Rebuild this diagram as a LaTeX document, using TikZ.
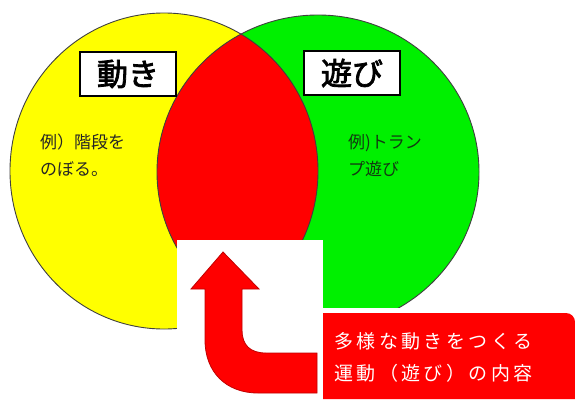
\documentclass[tikz,border=0pt]{standalone}
\usepackage{fontspec}
\newfontfamily\jp{Noto Sans CJK JP}
\newfontfamily\jpb{Noto Sans CJK JP}[FakeBold=2.5]
\newfontfamily\jpw{Noto Sans CJK JP}[LetterSpace=18]
\definecolor{vyellow}{HTML}{FFFF00}
\definecolor{vgreen}{HTML}{00F000}
\definecolor{vred}{HTML}{FF0000}
\definecolor{darkred}{HTML}{C00000}
\definecolor{txtgreen}{HTML}{123A12}
\begin{document}
\begin{tikzpicture}[x=1pt,y=-1pt,
  outline/.style={draw=black!75,line width=0.9pt},
  labelbox/.style={draw=black,line width=1.6pt,fill=white,minimum width=96pt,minimum height=44pt,inner sep=0pt,font=\jpb\fontsize{31}{31}\selectfont},
  notetext/.style={align=left,inner sep=0pt,anchor=north west,font=\jp\fontsize{17}{27}\selectfont},
  boxtext/.style={align=left,inner sep=0pt,anchor=north west,text=white,font=\jpw\fontsize{19}{32}\selectfont}]
\useasboundingbox (0,0) rectangle (575,399);
\fill[white] (0,0) rectangle (575,399);
% circles
\fill[vyellow] (164,171) ellipse [x radius=154, y radius=158];
\fill[vgreen] (318,172) ellipse [x radius=161, y radius=157];
\begin{scope}
  \clip (164,171) ellipse [x radius=154, y radius=158];
  \fill[vred] (318,172) ellipse [x radius=161, y radius=157];
\end{scope}
\draw[outline] (164,171) ellipse [x radius=154, y radius=158];
\draw[outline] (318,172) ellipse [x radius=161, y radius=157];
% white panel and red box
\fill[white] (177,240) rectangle (323,399);
\fill[white] (323,308) rectangle (575,399);
\fill[vred] (323,313) [rounded corners=9pt]-- (575,313) [sharp corners]-- (575,399) -- (323,399) -- cycle;
% arrow
\draw[fill=vred,draw=darkred,line width=0.8pt]
  (223,252) -- (259,289) -- (242,289) -- (242,330)
  .. controls (242,345) and (250,353) .. (266,353)
  -- (317,353) -- (317,393) -- (258,393)
  .. controls (226,393) and (205,372) .. (205,340)
  -- (205,289) -- (191,289) -- cycle;
% label boxes
\node[labelbox] (ugoki) at (128,74) {動き};
\node[labelbox] (asobi) at (352,73) {遊び};
% notes
\node[notetext,text=black!85] (ex1) at (40,134) {例）階段を\\のぼる。};
\node[notetext,text=txtgreen] (ex2) at (348,134) {例)トラン\\プ遊び};
\node[boxtext] (content) at (334,332) {多様な動きをつくる\\運動（遊び）の内容};
\end{tikzpicture}
\end{document}
